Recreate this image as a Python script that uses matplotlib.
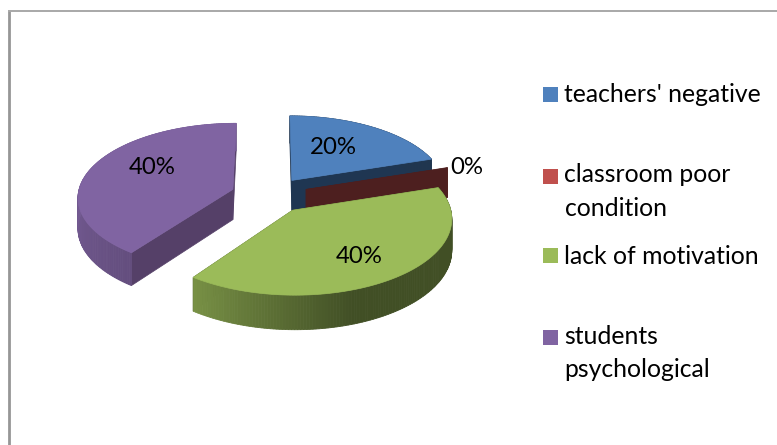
import numpy as np
import matplotlib
matplotlib.use('Agg')
import matplotlib.pyplot as plt

plt.rcParams['font.family'] = ['Lato', 'DejaVu Sans']

categories = ["teachers' negative", 'classroom poor\ncondition', 'lack of motivation', 'students\npsychological']
# the classroom slice reads 0% but still shows as a thin sliver
values = [20, 0.1, 40, 40]
top_colors = ['#4F81BD', '#C0504D', '#9BBB59', '#8064A2']
cut_colors = ['#1F3652', '#4D1F1F', '#3F4C22', '#554068']
legend_y = [94, 176, 255, 337]
label_xy = [(333, 147.5), (467, 167.5), (359, 256.5), (152, 167.5)]

# pie geometry, in pixels
cx, cy = 269.5, 195
rx, ry = 155, 73.5
persp = 0.0975
depth = 30.5
explode = 0.25


def project(u, v, z=0):
    s = 1 / (1 + persp * v)
    return cx + rx * u * s, cy - ry * v * s + depth * z * s


def shade(color, f):
    rgb = np.array(matplotlib.colors.to_rgb(color))
    return tuple(rgb * f)


def wall_light(deg):
    return np.interp(deg, [90, 160, 216, 270], [0.42, 0.42, 0.78, 0.9])


def draw_slice(start, end, top, cut):
    mid = np.radians((start + end) / 2)
    ou, ov = explode * np.sin(mid), explode * np.cos(mid)
    degs = np.linspace(start, end, max(int(end - start) + 2, 3))
    us = ou + np.sin(np.radians(degs))
    vs = ov + np.cos(np.radians(degs))

    # cut faces
    for i in (0, -1):
        p = [project(ou, ov), project(us[i], vs[i]), project(us[i], vs[i], 1), project(ou, ov, 1)]
        ax.fill(*zip(*p), color=cut, lw=0.5)

    # outer wall, one strip per degree so the shading can change
    for i in range(len(degs) - 1):
        p = [project(us[i], vs[i]), project(us[i + 1], vs[i + 1]),
             project(us[i + 1], vs[i + 1], 1), project(us[i], vs[i], 1)]
        ax.fill(*zip(*p), color=shade(top, wall_light(degs[i])), lw=0.6)

    # top face, the sliver has none worth drawing
    if end - start > 1:
        x, y = project(us, vs)
        ax.fill(np.r_[project(ou, ov)[0], x], np.r_[project(ou, ov)[1], y], color=top, lw=0.5)


fig = plt.figure(figsize=(7.77, 4.45), dpi=100)
ax = fig.add_axes([0, 0, 1, 1])
ax.set_xlim(0, 777)
ax.set_ylim(445, 0)
ax.axis('off')

# chart frame, only left and top fall inside the picture
ax.plot([9, 9], [445, 11], color='#969696', lw=2.0, solid_capstyle='butt')
ax.plot([8, 777], [10.8, 10.8], color='#A8A8A8', lw=1.4, solid_capstyle='butt')

total = sum(values)
edges = np.r_[0, np.cumsum(values)] / total * 360
for i in (3, 0, 1, 2):
    draw_slice(edges[i], edges[i + 1], top_colors[i], cut_colors[i])

for v, (x, y) in zip(values, label_xy):
    ax.text(x, y, f'{v / total * 100:.0f}%', fontsize=17.3, color='black', ha='center', va='center')

for name, color, y in zip(categories, top_colors, legend_y):
    ax.add_patch(plt.Rectangle((543, y - 7.5), 15, 15, color=color, lw=0))
    for n, line in enumerate(name.split('\n')):
        ax.text(564.5, y + 1 - 2 * (n == 0 and '\n' in name) + n * 31.5, line, fontsize=17.8, color='black', ha='left', va='center')

fig.savefig('out.png', dpi=100)
